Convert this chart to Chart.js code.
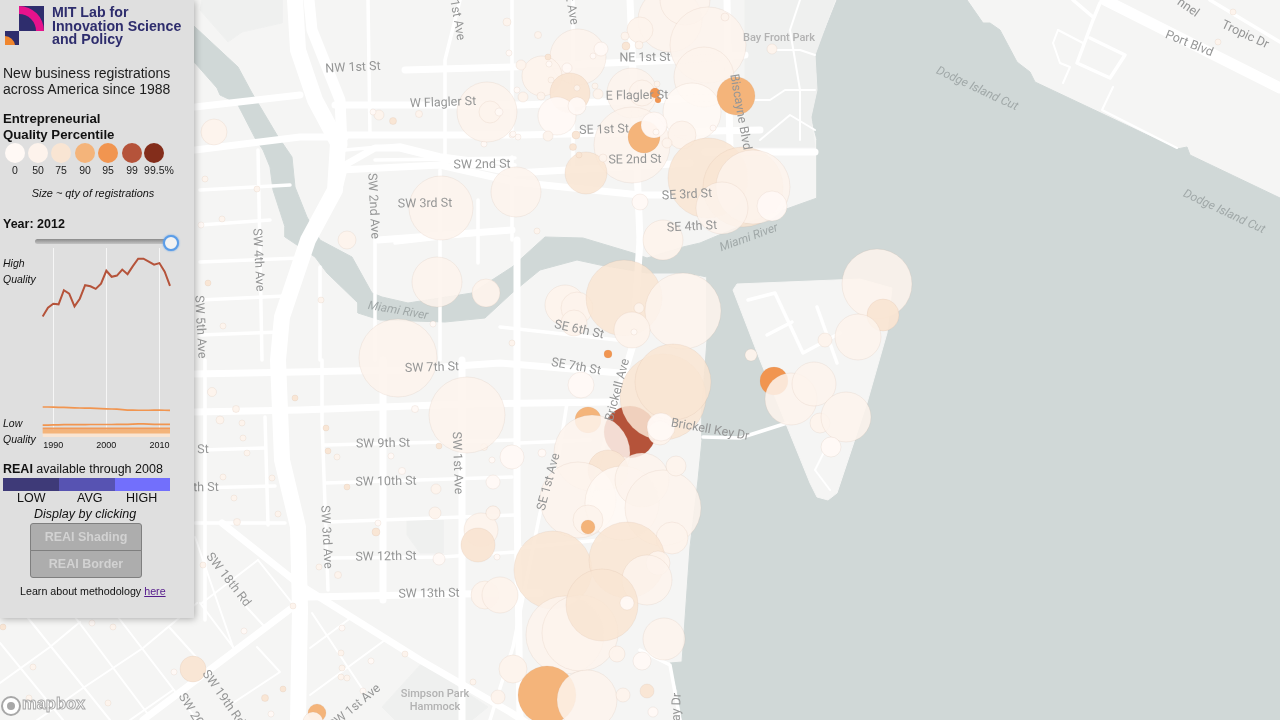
<!DOCTYPE html>
<html>
<head>
<meta charset="utf-8">
<title>New business registrations</title>
<script src="https://cdn.jsdelivr.net/npm/chart.js@4/dist/chart.umd.min.js"></script>
<style>
  html, body { margin: 0; padding: 0; width: 1280px; height: 720px; overflow: hidden; background: #f5f5f4; }
  #map { position: absolute; left: 0; top: 0; }
  #panel {
    position: absolute; left: 0; top: 0; width: 194px; height: 618px; background: #dfdfdf;
    box-shadow: 1px 1px 7px rgba(0,0,0,.3); font-family: "Liberation Sans", sans-serif; color: #111;
  }
  #panel > * { position: absolute; white-space: nowrap; }
  .dot { width: 20px; height: 20px; border-radius: 50%; top: 143px; }
  .dotLabel { top: 164px; font-size: 10.5px; line-height: 12px; transform: translateX(-50%); color: #222; }
  .btn { left: 30px; width: 110px; background: #adadad; border: 1px solid #7f7f7f; color: #d2d2d2;
    font-size: 12.5px; font-weight: bold; text-align: center; }
  #logoText { left: 52px; top: 6px; font-size: 14.2px; line-height: 13.7px; font-weight: bold; color: #2e2d6d; }
</style>
</head>
<body>
<canvas id="map" width="1280" height="720"></canvas>

<div id="panel">
  <svg style="left:5px;top:5px" width="40" height="42" viewBox="0 0 40 42">
    <rect x="14" y="1" width="25" height="25" fill="#2e2d6d"/>
    <path d="M14 1 A25 25 0 0 1 39 26 H31 A17 17 0 0 0 14 9 Z" fill="#e6128c"/>
    <rect x="0" y="26" width="14" height="14" fill="#2e2d6d"/>
    <path d="M0 31 V40 H10 A11 11 0 0 0 0 31 Z" fill="#f0862e"/>
  </svg>
  <div id="logoText">MIT Lab for<br>Innovation Science<br>and Policy</div>
  <div style="left:3px;top:65px;font-size:14px;line-height:16px;color:#1c1c1c">New business registrations<br>across America since 1988</div>
  <div style="left:3px;top:111px;font-size:13.2px;line-height:16px;font-weight:bold">Entrepreneurial<br>Quality Percentile</div>
  <div style="left:0;width:186px;top:187px;text-align:center;font-size:10.9px;line-height:13px;font-style:italic">Size ~ qty of registrations</div>
  <div style="left:3px;top:217px;font-size:12.5px;line-height:15px;font-weight:bold">Year: 2012</div>
  <div style="left:35px;top:239px;width:135px;height:5px;border-radius:3px;background:linear-gradient(#8a8a8a,#c4c4c4)"></div>
  <div style="left:163px;top:235px;width:12px;height:12px;border-radius:50%;background:#f2f2f2;border:2px solid #5b9de8;box-shadow:0 0 2px #5b9de8"></div>
  <canvas id="trend" width="150" height="216" style="left:30px;top:238px"></canvas>
  <div style="left:3px;top:255px;font-size:10.5px;line-height:16px;font-style:italic">High<br>Quality</div>
  <div style="left:3px;top:415px;font-size:10.5px;line-height:16px;font-style:italic">Low<br>Quality</div>
  <div style="left:3px;top:462px;font-size:12.5px;line-height:15px"><b>REAI</b> available through 2008</div>
  <div style="left:3px;top:478px;width:56px;height:13px;background:#3e3a78"></div>
  <div style="left:59px;top:478px;width:56px;height:13px;background:#5753b2"></div>
  <div style="left:115px;top:478px;width:55px;height:13px;background:#726ffc"></div>
  <div style="left:17px;top:491px;font-size:12.5px;line-height:15px">LOW</div>
  <div style="left:77px;top:491px;font-size:12.5px;line-height:15px">AVG</div>
  <div style="left:126px;top:491px;font-size:12.5px;line-height:15px">HIGH</div>
  <div style="left:34px;top:507px;font-size:12.5px;line-height:15px;font-style:italic">Display by clicking</div>
  <div class="btn" style="top:523px;height:26px;line-height:26px;border-radius:3px 3px 0 0">REAI Shading</div>
  <div class="btn" style="top:550px;height:26px;line-height:26px;border-top-color:#7f7f7f;border-radius:0 0 3px 3px">REAI Border</div>
  <div style="left:20px;top:585px;font-size:10.7px;line-height:13px">Learn about methodology <span style="color:#551a8b;text-decoration:underline">here</span></div>
</div>

<svg style="position:absolute;left:0;top:694px" width="22" height="24" viewBox="0 0 22 24">
  <circle cx="11" cy="12" r="9" fill="#fff" stroke="#a8a8a8" stroke-width="2"/>
  <circle cx="11" cy="12" r="4" fill="#a8a8a8"/>
</svg>
<div style="position:absolute;left:22px;top:694px;font:bold 16.5px 'Liberation Sans',sans-serif;color:#fff;-webkit-text-stroke:1px #a8a8a8;letter-spacing:0">mapbox</div>

<script>
// ---- sidebar legend
const legendLabels = ['0', '50', '75', '90', '95', '99', '99.5%'];
const legendCenters = [15, 38, 61, 85, 108, 132, 154];
const legendTextCenters = [15, 38, 61, 85, 108, 132, 159];
const qualityColors = ['#fff9f5', '#fdf3ec', '#f9e5d3', '#f4b47a', '#f19550', '#b5533a', '#832d1b'];

// ---- sidebar trend, one share per year
const years = [1988,1989,1990,1991,1992,1993,1994,1995,1996,1997,1998,1999,2000,2001,2002,2003,2004,2005,2006,2007,2008,2009,2010,2011,2012];
const tickYears = [1990, 2000, 2010];
const trend99 = [60,64.3,66.3,66,73,71.3,65,68.8,75.5,75,73.7,76.3,82.7,79.7,80.3,83.3,81,85,88.7,88.7,87.2,85.7,86.5,82.2,75.2];
const trend95 = [15,15,14.9,14.8,14.8,14.7,14.6,14.5,14.4,14.4,14.3,14.2,14.1,14,13.9,13.7,13.5,13.5,13.4,13.4,13.4,13.5,13.5,13.4,13.3];
const trend90 = [6,6,6.1,6.1,6.2,6.2,6.2,6.2,6.2,6.3,6.3,6.3,6.3,6.3,6.4,6.4,6.4,6.5,6.6,6.6,6.5,6.4,6.4,6.4,6.4];
const trend75 = [4.3,4.3,4.3,4.3,4.3,4.3,4.3,4.3,4.3,4.3,4.3,4.3,4.3,4.3,4.3,4.3,4.3,4.3,4.3,4.3,4.3,4.3,4.3,4.3,4.3];
const trend50 = [2.8,2.8,2.8,2.8,2.8,2.8,2.8,2.8,2.8,2.8,2.8,2.8,2.8,2.8,2.8,2.8,2.8,2.8,2.8,2.8,2.8,2.8,2.8,2.8,2.8];
const trend0 = [1.2,1.2,1.2,1.2,1.2,1.2,1.2,1.2,1.2,1.2,1.2,1.2,1.2,1.2,1.2,1.2,1.2,1.2,1.2,1.2,1.2,1.2,1.2,1.2,1.2];

// ---- registrations on the map: [x, y, size, quality class], in draw order
const bubblesNorth = [
  [670,20,32,1],[685,0,25,1],[640,30,13,1],[708,45,38,1],[704,77,30,1],[578,57,28,1],[542,76,20,1],[570,93,20,2],
  [632,93,25,1],[642,93,13,1],[655,93,5,4],[658,100,3,4],[557,116,19,0],[577,106,9,0],[626,46,4,2],[601,49,7,0],
  [567,68,5,0],[632,145,38,1],[692,112,29,0],[644,137,16,3],[654,125,13,0],[682,135,14,1],[736,96,19,3],[586,173,21,2],
  [708,178,40,2],[743,187,40,2],[753,187,37,1],[722,208,26,1],[772,206,15,0],[663,240,20,1],[640,202,8,0],[656,132,3,0],
  [487,112,30,1],[490,112,11,1],[499,112,4,0],[516,192,25,1],[441,208,32,1],[437,282,25,1],[486,293,14,1],[214,132,13,1],[347,240,9,1]
];
const bubblesBrickell = [
  [398,358,39,1],[467,415,38,1],[565,305,20,1],[577,308,16,1],[574,323,13,1],[624,298,38,2],[683,311,38,1],[632,330,18,1],
  [634,332,3,0],[639,308,5,1],[608,354,4,4],[581,385,13,0],[588,420,13,3],[630,432,26,5],[663,397,43,2],[673,382,38,2],
  [660,433,12,1],[661,427,14,0],[592,453,38,1],[608,470,20,2],[578,500,38,1],[622,503,37,0],[642,480,27,1],[663,508,38,1],
  [676,466,10,1],[542,453,4,0],[588,520,15,1],[588,527,7,3],[672,538,16,1]
];
const bubblesSouth = [
  [481,530,17,1],[478,545,17,2],[493,513,7,1],[485,595,14,1],[500,595,18,1],[553,570,39,2],[627,560,38,2],[658,563,12,1],
  [647,580,25,1],[565,635,39,1],[580,633,38,1],[602,605,36,2],[627,603,7,0],[664,639,21,1],[617,654,8,1],[642,661,9,0],
  [513,669,14,1],[547,695,29,3],[587,700,30,1],[623,695,7,1],[647,691,7,2],[653,712,5,0],[498,697,7,1],[193,669,13,2],
  [317,713,9,3],[313,722,10,1]
];
const bubblesKey = [
  [751,355,6,1],[774,381,14,4],[877,284,35,1],[883,315,16,2],[858,337,23,1],[825,340,7,1],[791,399,26,1],[814,384,22,1],
  [820,423,10,1],[846,417,25,1],[831,447,10,0]
];
const bubblesSmall = [
  [212,392,4.5,1],[295,398,3,2],[236,409,3.5,1],[220,420,4,1],[242,423,3,1],[243,438,3,1],[326,428,3,2],[328,451,3,2],
  [337,457,3,1],[247,453,3,1],[223,477,3,1],[272,478,3,1],[234,498,3,1],[278,514,3,1],[237,522,3.5,1],[347,487,3,2],
  [391,456,3,0],[402,471,3.5,0],[439,446,3,2],[415,409,3.5,0],[436,489,5,1],[435,513,6,1],[378,523,3,0],[376,532,4,2],
  [338,575,3.5,1],[319,567,3,1],[439,559,6,0],[493,482,7,0],[493,513,7,0],[512,457,12,0],[492,460,3,0],[484,447,3.5,1],
  [497,557,3,0],[293,606,3,1],[244,631,3,0],[342,628,3,0],[341,653,3,1],[371,661,3,0],[405,654,3,1],[342,668,3,1],
  [341,677,3,1],[347,678,3,1],[363,691,3,0],[283,689,3,2],[265,698,3.5,2],[271,714,3,0],[473,682,3,1],[3,627,3,2],
  [92,623,3,0],[113,627,3,1],[33,667,3,1],[174,672,3,0],[108,703,3,1],[29,698,3,1],[203,565,3,1],[507,22,4,1],
  [509,53,3,0],[379,115,5,1],[393,121,3.5,2],[419,114,3.5,1],[373,112,3,0],[484,144,3,0],[512,135,3,0],[205,179,3,1],
  [257,189,3,1],[222,219,3,1],[201,225,3,0],[208,283,3,2],[223,326,3,1],[321,300,3,1],[433,324,3,0],[512,343,3,1],
  [538,35,3.5,1],[517,90,3,0],[523,97,5,1],[521,65,5,1],[548,57,3,2],[593,56,3,0],[551,80,3,1],[549,64,3,0],[577,88,3,1],
  [595,86,3,1],[541,96,4,1],[598,94,5,1],[625,36,4,1],[639,45,4,1],[725,17,4,1],[772,49,5,1],[713,128,3,0],[548,136,5,1],
  [576,135,4,2],[573,147,3.5,2],[518,137,3,0],[513,134,3,0],[603,158,4,1],[579,155,3,2],[657,84,3,1],[667,143,5,1],
  [537,231,3,1],[1218,42,3,1],[1233,12,3,1]
];

// ---- base map shapes
const waterShape = [[837,0],[815,55],[817,90],[811,117],[817,140],[817,198],[750,222],[700,243],[683,247],[647,258],[633,253],[583,238],[545,237],[512,267],[472,293],[408,303],[382,297],[372,293],[352,257],[320,240],[307,217],[295,187],[292,157],[277,135],[252,93],[238,67],[195,27],[190,22],[190,60],[195,63],[217,88],[220,95],[237,103],[255,138],[263,150],[270,167],[273,190],[285,227],[285,237],[315,257],[327,273],[358,303],[358,313],[380,320],[445,322],[485,318],[512,293],[540,270],[577,260],[600,265],[647,273],[687,273],[707,277],[707,340],[702,407],[702,440],[698,480],[690,547],[682,662],[670,663],[677,690],[682,720],[1280,720],[1280,198],[1190,155],[1187,147],[1177,149],[1035,82],[1030,72],[1017,62],[1000,30],[990,23],[983,23],[967,0],[837,0]];
const keyShape = [[733,290],[737,284],[860,279],[892,288],[887,333],[867,403],[837,493],[828,500],[817,497],[810,483],[760,360],[733,290]];
const parkShapes = [
  [[745,0],[835,0],[815,55],[817,90],[811,117],[815,147],[745,147],[745,0]],
  [[202,0],[282,0],[282,23],[242,32],[228,42],[200,10],[202,0]],
  [[382,707],[422,663],[488,707],[472,720],[395,720],[382,707]],
  [[407,520],[443,520],[443,553],[420,553],[407,535],[407,520]]
];

const highways = [
  [[295,0],[298,50],[315,100],[338,143],[335,190],[308,240],[282,317],[278,360],[282,460],[298,527],[300,610],[298,720]]
];
const wideRoads = [
  [[1105,0],[1280,88]],[[309,0],[312,30],[340,100],[342,145]]
];
const mainRoads = [
  [[195,107],[300,95]],[[195,150],[300,137],[345,137]],[[222,523],[300,585],[420,660],[510,712],[530,725]],
  [[143,720],[293,607]],[[405,70],[512,67],[680,60],[745,55]],[[335,105],[520,105],[730,97]],[[340,135],[520,135],[760,130]],
  [[340,185],[345,165],[375,148],[400,148],[440,158],[515,173],[690,163]],[[340,170],[440,165],[515,182],[640,195],[700,195]],[[705,152],[815,152]],
  [[378,240],[512,230]],[[195,374],[400,370],[500,363],[620,373]],[[195,412],[300,410],[465,404],[610,402]],
  [[308,597],[515,593],[540,593]],[[517,240],[517,500],[520,720]],[[640,240],[633,345],[610,420]],[[630,0],[640,240]],
  [[383,360],[383,600]],[[462,360],[462,720]],[[727,0],[730,150]]
];
const streets = [
  [[368,0],[370,135]],[[512,0],[512,135]],[[573,0],[573,170]],[[460,0],[445,60],[445,167]],[[375,240],[375,360]],
  [[440,240],[440,360]],[[322,360],[322,420],[328,590]],[[500,327],[617,340]],[[202,450],[265,448]],[[325,445],[445,442],[515,440]],
  [[195,488],[275,486]],[[325,483],[512,477]],[[195,523],[285,523]],[[328,522],[515,515]],[[328,558],[442,557],[515,552]],
  [[567,403],[557,467],[540,513],[513,647],[490,720]],[[610,420],[590,500]],[[520,443],[590,440]],[[520,548],[600,540]],
  [[640,650],[670,665],[680,720]],[[703,437],[740,438],[787,423]],[[205,360],[205,620]],
  [[265,417],[268,525]],[[258,150],[262,360]],[[200,190],[290,185]],[[200,225],[270,220]],[[200,262],[300,258]],[[200,300],[285,296]],
  [[200,335],[280,332]],[[320,267],[320,360]],[[375,160],[515,158]],[[395,243],[512,230]],[[512,157],[512,240]],[[440,170],[440,240]],
  [[478,200],[478,263]],[[345,150],[400,145],[440,155],[515,165]],[[1210,0],[1280,42]],[[1073,0],[1093,17]],[[1100,3],[1093,20],[1077,63],[1110,78],[1125,55],[1090,38]],
  [[748,300],[775,293],[803,353],[840,333]],[[767,335],[792,322]],[[817,307],[837,363]]
];
const thinRoads = [
  [[28,618],[110,720]],[[75,617],[147,713]],[[118,617],[197,720]],[[170,628],[197,658]],[[200,603],[233,647]],[[0,643],[63,720]],[[240,600],[263,625]],
  [[80,622],[50,647],[0,683]],[[197,603],[143,648],[83,688],[23,730]],[[173,690],[130,720]],[[257,647],[280,672],[233,703]],
  [[258,560],[202,603]],[[258,560],[292,603]],[[195,537],[233,647]],[[312,613],[365,693]],[[310,648],[352,617]],[[310,695],[385,640]],
  [[770,50],[800,50],[815,55]],[[745,100],[770,100],[785,90],[815,90]],[[760,140],[790,115],[815,130]],[[800,0],[790,30],[800,90],[800,140]],
  [[1058,30],[1053,43],[1060,63],[1070,67],[1063,83]],[[1058,30],[1083,43]],[[1113,87],[1102,110],[1177,148]],
  [[830,440],[815,470],[830,490]]
];

// ---- map labels: [text, x, y, angle], italic ones are water
const streetLabels = [
  ['NW 1st St',353,68,-3],['W Flagler St',443,103,-2],['NE 1st St',645,58,-1],['E Flagler St',637,96,-1],['SE 1st St',604,130,-2],
  ['SE 2nd St',635,160,-1],['SW 2nd St',482,165,-1],['SE 3rd St',687,195,-3],['SW 3rd St',425,204,-1],['SE 4th St',692,227,-3],
  ['Biscayne Blvd',740,112,80],['SW 2nd Ave',373,206,87],['SW 4th Ave',258,260,87],['SW 5th Ave',200,327,87],['1st Ave',457,20,80],
  ['st Ave',571,8,80],['SE 6th St',579,330,12],['SE 7th St',576,367,10],['SW 7th St',432,368,-2],['Brickell Ave',618,390,-75],
  ['Brickell Key Dr',710,430,10],['SE 1st Ave',549,482,-75],['SW 1st Ave',457,463,88],['SW 9th St',383,444,-1],['SW 10th St',386,482,-1],
  ['SW 12th St',386,557,-1],['SW 13th St',429,594,-1],['SW 3rd Ave',326,537,87],['SW 18th Rd',228,580,52],['SW 19th Rd',223,698,55],
  ['SW 20th Rd',198,722,58],['th St',206,488,-1],['St',203,450,-1],['SW 1st Ave',355,707,-40],['Port Blvd',1189,44,22],['Tropic Dr',1245,35,25],
  ['nnel',1188,8,35],['ay Dr',677,707,-88]
];
const parkLabels = [['Bay Front Park',779,38,0],['Simpson Park',435,694,0],['Hammock',435,707,0]];
const waterLabels = [['Miami River',749,238,-20],['Miami River',398,311,10],['Dodge Island Cut',977,89,25],['Dodge Island Cut',1224,212,25]];

// turn a point list into {x,y} for the line datasets
const toPoints = list => list.map(p => ({ x: p[0], y: p[1] }));

function shapeDataset(list, color) {
  return { type: 'line', data: toPoints(list), fill: 'shape', backgroundColor: color, borderColor: color, borderWidth: 1, pointRadius: 0, tension: 0 };
}
function roadDataset(list, width) {
  return { type: 'line', data: toPoints(list), fill: false, borderColor: '#ffffff', borderWidth: width, pointRadius: 0, tension: 0, borderCapStyle: 'round', borderJoinStyle: 'round' };
}

const allBubbles = [].concat(bubblesSmall.slice(0, 72), bubblesNorth, bubblesBrickell, bubblesSouth, bubblesKey, bubblesSmall.slice(72));

function hexAlpha(hex, a) {
  const n = parseInt(hex.slice(1), 16);
  return `rgba(${n >> 16},${(n >> 8) & 255},${n & 255},${a})`;
}

const bubbleDataset = {
  type: 'bubble',
  data: allBubbles.map(b => ({ x: b[0], y: b[1], r: b[2] })),
  backgroundColor: allBubbles.map(b => hexAlpha(qualityColors[b[3]], b[3] > 2 ? 1 : b[2] > 20 ? 0.86 : 0.95)),
  borderColor: 'rgba(190,150,125,0.12)',
  borderWidth: 1
};

const mapSets = [
  shapeDataset(waterShape, '#d0d8d7'),
  shapeDataset(keyShape, '#f5f5f4')
];
parkShapes.forEach(s => mapSets.push(shapeDataset(s, '#eff0ef')));
thinRoads.forEach(r => mapSets.push(roadDataset(r, 2)));
streets.forEach(r => mapSets.push(roadDataset(r, 3.5)));
mainRoads.forEach(r => mapSets.push(roadDataset(r, 7)));
wideRoads.forEach(r => mapSets.push(roadDataset(r, 11)));
highways.forEach(r => mapSets.push(roadDataset(r, 16)));
mapSets.push(bubbleDataset);
// later entries go on top
mapSets.forEach((d, i) => { d.order = mapSets.length - i; });

const labelPlugin = {
  id: 'mapLabels',
  afterDatasetsDraw(chart) {
    const { ctx, scales } = chart;
    const put = (rows, font, color) => {
      ctx.font = font;
      ctx.fillStyle = color;
      ctx.textAlign = 'center';
      ctx.textBaseline = 'middle';
      rows.forEach(r => {
        ctx.save();
        ctx.translate(scales.x.getPixelForValue(r[1]), scales.y.getPixelForValue(r[2]));
        ctx.rotate(r[3] * Math.PI / 180);
        ctx.fillText(r[0], 0, 0);
        ctx.restore();
      });
    };
    put(streetLabels, '12.5px Roboto', '#959696');
    put(parkLabels, '500 11px Roboto', '#b2b2b2');
    put(waterLabels, 'italic 12px Roboto', '#a0a8a8');
  }
};

new Chart(document.getElementById('map'), {
  data: { datasets: mapSets },
  plugins: [labelPlugin],
  options: {
    responsive: false,
    animation: false,
    events: [],
    layout: { autoPadding: false, padding: 0 },
    plugins: { legend: { display: false }, tooltip: { enabled: false } },
    scales: {
      x: { type: 'linear', min: 0, max: 1280, display: false },
      y: { type: 'linear', min: 0, max: 720, reverse: true, display: false }
    }
  }
});

// legend dots in the panel
const panel = document.getElementById('panel');
legendLabels.forEach((label, i) => {
  const dot = document.createElement('div');
  dot.className = 'dot';
  dot.style.left = (legendCenters[i] - 10) + 'px';
  dot.style.background = qualityColors[i];
  panel.appendChild(dot);
  const txt = document.createElement('div');
  txt.className = 'dotLabel';
  txt.style.left = legendTextCenters[i] + 'px';
  txt.textContent = label;
  panel.appendChild(txt);
});

const trendLine = (values, color, width) => ({
  data: years.map((y, i) => ({ x: y, y: values[i] })),
  borderColor: color, borderWidth: width, pointRadius: 0, tension: 0, clip: false
});

new Chart(document.getElementById('trend'), {
  type: 'line',
  data: {
    datasets: [
      trendLine(trend99, '#b5533a', 2),
      trendLine(trend95, '#f19550', 1.7),
      trendLine(trend90, '#f19550', 1.7),
      trendLine(trend75, '#f19a5a', 2),
      trendLine(trend50, '#f4b47a', 4),
      trendLine(trend0, '#f9e5d3', 4.5)
    ]
  },
  options: {
    responsive: false,
    animation: false,
    events: [],
    layout: { padding: { left: 12.67, right: 10, top: 10, bottom: 0 } },
    plugins: { legend: { display: false }, tooltip: { enabled: false } },
    scales: {
      x: {
        type: 'linear', min: 1988, max: 2012,
        afterBuildTicks: axis => { axis.ticks = tickYears.map(v => ({ value: v })); },
        grid: { color: '#f6f6f6', lineWidth: 1, drawTicks: false },
        border: { display: false },
        ticks: { color: '#111', padding: 3, maxRotation: 0, font: { family: 'Liberation Sans', size: 9 }, callback: v => String(v) }
      },
      y: { min: 0, max: 94, display: false }
    }
  }
});
</script>
</body>
</html>
